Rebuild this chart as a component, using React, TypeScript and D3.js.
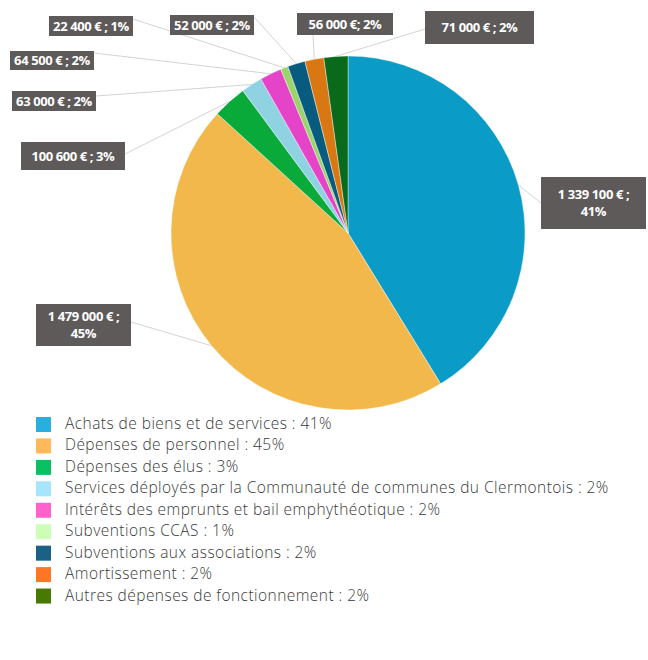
import React from 'react'
import * as d3 from 'd3'

const categories = [
  'Achats de biens et de services',
  'Dépenses de personnel',
  'Dépenses des élus',
  'Services déployés par la Communauté de communes du Clermontois',
  'Intérêts des emprunts et bail emphythéotique',
  'Subventions CCAS',
  'Subventions aux associations',
  'Amortissement',
  'Autres dépenses de fonctionnement',
]
const amounts = [1339100, 1479000, 100600, 63000, 64500, 22400, 52000, 56000, 71000]
const percents = [41, 45, 3, 2, 2, 1, 2, 2, 2]
const sliceLabels = [
  ['1 339 100 € ;', '41%'],
  ['1 479 000 € ;', '45%'],
  ['100 600 € ; 3%'],
  ['63 000 € ; 2%'],
  ['64 500 € ; 2%'],
  ['22 400 € ; 1%'],
  ['52 000 € ; 2%'],
  ['56 000 €; 2%'],
  ['71 000 € ; 2%'],
]
const pieColors = ['#0b9bc7', '#f2b84c', '#09a93a', '#8fd2e2', '#e544c9', '#9bd46b', '#075b7e', '#d97812', '#0a6a1c']
const legendColors = ['#29aede', '#ffb85c', '#0cbf62', '#a6e5fb', '#ff63cb', '#ccffb5', '#1b6085', '#ff7726', '#477a03']

// label boxes (x, y, w, h) and where the leader line leaves the box
const boxes = [
  { x: 541, y: 177, w: 105, h: 52, lx: 541, ly: 203 },
  { x: 36, y: 304, w: 95, h: 42, lx: 131, ly: 322 },
  { x: 21, y: 142, w: 104, h: 28, lx: 125, ly: 154 },
  { x: 12, y: 91, w: 84, h: 20, lx: 96, ly: 96 },
  { x: 10, y: 51, w: 84, h: 19, lx: 94, ly: 53 },
  { x: 49, y: 16, w: 84, h: 20, lx: 133, ly: 19 },
  { x: 170, y: 15, w: 84, h: 20, lx: 254, ly: 17 },
  { x: 297, y: 13, w: 96, h: 22, lx: 313, ly: 35 },
  { x: 425, y: 11, w: 109, h: 33, lx: 425, ly: 29 },
]

const cx = 348
const cy = 233
const r = 177

export default function App() {
  const pie = d3.pie<number>().sort(null).value(d => d)(amounts)
  const arc = d3.arc<d3.PieArcDatum<number>>().innerRadius(0).outerRadius(r)
  const edge = d3.arc<d3.PieArcDatum<number>>().innerRadius(r).outerRadius(r)

  const legendY = d3.scaleBand<number>().domain(d3.range(categories.length)).range([417, 610]).paddingInner(0)

  return (
    <svg width={648} height={660} style={{ position: 'absolute', left: 0, top: 0, background: '#fff' }}>
      <g transform={`translate(${cx},${cy})`}>
        {pie.map((d, i) => (
          <path key={i} d={arc(d) || ''} fill={pieColors[i]} stroke="#fff" strokeWidth={0.4} />
        ))}
      </g>
      {pie.map((d, i) => {
        const [ex, ey] = edge.centroid(d)
        const b = boxes[i]
        return (
          <line key={i} x1={b.lx} y1={b.ly} x2={cx + ex} y2={cy + ey} stroke="#c8c8c8" strokeWidth={0.8} />
        )
      })}
      {boxes.map((b, i) => {
        const lines = sliceLabels[i]
        return (
          <g key={i}>
            <rect x={b.x} y={b.y} width={b.w} height={b.h} fill="#5e5a5a" />
            {lines.map((t, j) => (
              <text
                key={j}
                x={b.x + b.w / 2}
                y={b.y + b.h / 2 + (j - (lines.length - 1) / 2) * 17 + 4.5}
                textAnchor="middle"
                fill="#fff"
                fontFamily="'Open Sans', sans-serif"
                fontWeight={700}
                fontSize={13}
                letterSpacing={-0.4}
              >
                {t}
              </text>
            ))}
          </g>
        )
      })}
      {categories.map((c, i) => (
        <g key={i} transform={`translate(0,${legendY(i)})`}>
          <rect x={36} y={0} width={15} height={15} fill={legendColors[i]} />
          <text x={65} y={12} fill="#3a3a3a" fontFamily="'Open Sans', sans-serif" fontWeight={300} fontSize={15.5} letterSpacing={0.45}>
            {`${c} : ${percents[i]}%`}
          </text>
        </g>
      ))}
    </svg>
  )
}
